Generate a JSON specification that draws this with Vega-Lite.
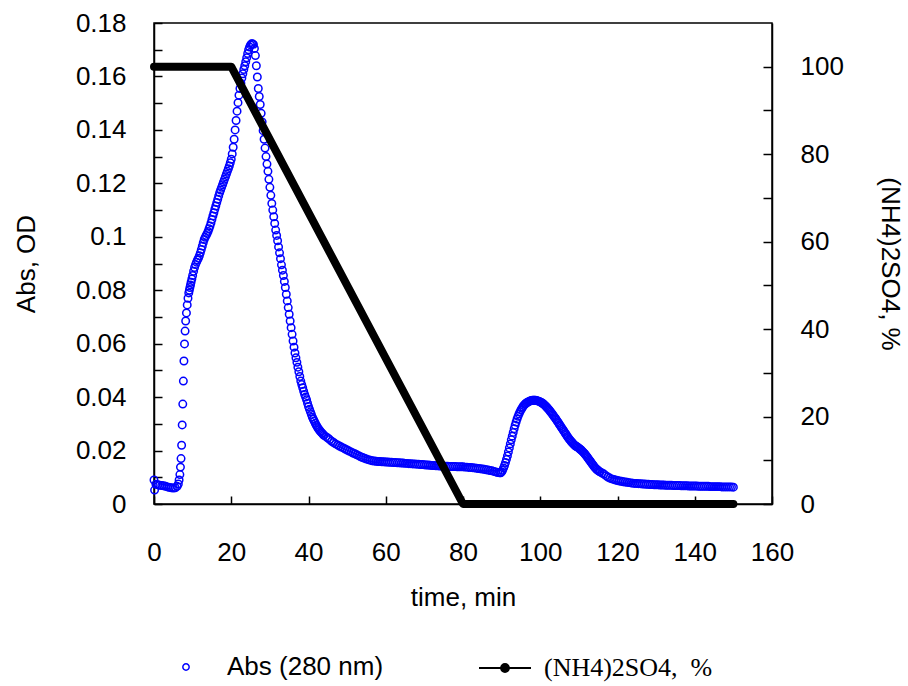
{
  "$schema": "https://vega.github.io/schema/vega-lite/v6.json",
  "width": 618,
  "height": 481,
  "autosize": "none",
  "padding": {"left": 154, "top": 23, "right": 136, "bottom": 182},
  "background": "white",
  "config": {
    "view": {"stroke": "black", "strokeWidth": 1.5},
    "axis": {
      "labelFont": "Liberation Sans",
      "titleFont": "Liberation Sans",
      "labelFontSize": 26,
      "titleFontSize": 26,
      "titleFontWeight": "normal",
      "labelColor": "black",
      "titleColor": "black",
      "domainColor": "black",
      "domainWidth": 1.5,
      "tickColor": "black",
      "tickWidth": 1.5,
      "grid": false,
      "labelOverlap": false,
      "labelFlush": false
    },
    "legend": {
      "labelFont": "Liberation Sans",
      "labelFontSize": 26,
      "labelColor": "black",
      "labelLimit": 0,
      "padding": 0,
      "title": null
    }
  },
  "datasets": {
    "abs": [
      {"t":0,"a":0.009},{"t":0.15,"a":0.0052},{"t":0.5,"a":0.0074},{"t":1,"a":0.0072},{"t":1.5,"a":0.007},{"t":2,"a":0.0069},{"t":2.5,"a":0.0068},{"t":3,"a":0.0066},{"t":3.5,"a":0.0064},{"t":4,"a":0.0062},{"t":4.5,"a":0.0061},{"t":5,"a":0.006},{"t":5.5,"a":0.0061},{"t":6,"a":0.0066},{"t":6.3,"a":0.0075},{"t":6.5,"a":0.009},{"t":6.7,"a":0.011},{"t":6.85,"a":0.0138},{"t":7,"a":0.017},{"t":7.15,"a":0.022},{"t":7.3,"a":0.0296},{"t":7.45,"a":0.0374},{"t":7.6,"a":0.046},{"t":7.75,"a":0.0535},{"t":7.9,"a":0.0599},{"t":8.05,"a":0.0647},{"t":8.2,"a":0.0685},{"t":8.4,"a":0.0715},{"t":8.6,"a":0.0745},{"t":8.8,"a":0.077},{"t":9,"a":0.079},{"t":9.3,"a":0.081},{"t":9.6,"a":0.083},{"t":10,"a":0.0855},{"t":10.5,"a":0.0885},{"t":11,"a":0.0905},{"t":11.5,"a":0.092},{"t":12,"a":0.094},{"t":12.5,"a":0.0965},{"t":13,"a":0.099},{"t":13.5,"a":0.1005},{"t":14,"a":0.102},{"t":14.5,"a":0.104},{"t":15,"a":0.1065},{"t":15.5,"a":0.109},{"t":16,"a":0.1115},{"t":16.5,"a":0.114},{"t":17,"a":0.1165},{"t":17.5,"a":0.1185},{"t":18,"a":0.1205},{"t":18.5,"a":0.1225},{"t":19,"a":0.1245},{"t":19.5,"a":0.1265},{"t":20,"a":0.129},{"t":20.5,"a":0.1335},{"t":21,"a":0.14},{"t":21.5,"a":0.147},{"t":22,"a":0.153},{"t":22.5,"a":0.1575},{"t":23,"a":0.161},{"t":23.5,"a":0.164},{"t":24,"a":0.167},{"t":24.5,"a":0.17},{"t":25,"a":0.1718},{"t":25.5,"a":0.1722},{"t":26,"a":0.1705},{"t":26.5,"a":0.164},{"t":27,"a":0.1555},{"t":27.5,"a":0.1495},{"t":28,"a":0.143},{"t":28.5,"a":0.1365},{"t":29,"a":0.13},{"t":29.5,"a":0.1245},{"t":30,"a":0.1185},{"t":30.5,"a":0.1125},{"t":31,"a":0.1075},{"t":31.5,"a":0.1025},{"t":32,"a":0.0985},{"t":32.5,"a":0.094},{"t":33,"a":0.0895},{"t":33.5,"a":0.0855},{"t":34,"a":0.081},{"t":34.5,"a":0.076},{"t":35,"a":0.071},{"t":35.5,"a":0.066},{"t":36,"a":0.061},{"t":36.5,"a":0.0565},{"t":37,"a":0.053},{"t":37.5,"a":0.0495},{"t":38,"a":0.046},{"t":38.5,"a":0.0435},{"t":39,"a":0.041},{"t":39.5,"a":0.039},{"t":40,"a":0.0365},{"t":40.5,"a":0.0345},{"t":41,"a":0.0325},{"t":41.5,"a":0.031},{"t":42,"a":0.0295},{"t":42.5,"a":0.0283},{"t":43,"a":0.0273},{"t":43.5,"a":0.0265},{"t":44,"a":0.0257},{"t":44.5,"a":0.0252},{"t":45,"a":0.0247},{"t":45.5,"a":0.0241},{"t":46,"a":0.0235},{"t":46.5,"a":0.023},{"t":47,"a":0.0225},{"t":47.5,"a":0.0221},{"t":48,"a":0.0217},{"t":48.5,"a":0.0213},{"t":49,"a":0.021},{"t":49.5,"a":0.0206},{"t":50,"a":0.0202},{"t":50.5,"a":0.0198},{"t":51,"a":0.0195},{"t":51.5,"a":0.0191},{"t":52,"a":0.0188},{"t":52.5,"a":0.0184},{"t":53,"a":0.0181},{"t":53.5,"a":0.0177},{"t":54,"a":0.0174},{"t":54.5,"a":0.0171},{"t":55,"a":0.0168},{"t":55.5,"a":0.0166},{"t":56,"a":0.0164},{"t":56.5,"a":0.0162},{"t":57,"a":0.0161},{"t":57.5,"a":0.016},{"t":58,"a":0.0159},{"t":58.5,"a":0.0159},{"t":59,"a":0.0158},{"t":59.5,"a":0.0158},{"t":60,"a":0.0157},{"t":60.5,"a":0.0157},{"t":61,"a":0.0156},{"t":61.5,"a":0.0156},{"t":62,"a":0.0155},{"t":62.5,"a":0.0155},{"t":63,"a":0.0154},{"t":63.5,"a":0.0154},{"t":64,"a":0.0153},{"t":64.5,"a":0.0153},{"t":65,"a":0.0152},{"t":65.5,"a":0.0152},{"t":66,"a":0.0151},{"t":66.5,"a":0.0151},{"t":67,"a":0.015},{"t":67.5,"a":0.015},{"t":68,"a":0.0149},{"t":68.5,"a":0.0149},{"t":69,"a":0.0148},{"t":69.5,"a":0.0148},{"t":70,"a":0.0147},{"t":70.5,"a":0.0146},{"t":71,"a":0.0146},{"t":71.5,"a":0.0145},{"t":72,"a":0.0144},{"t":72.5,"a":0.0144},{"t":73,"a":0.0143},{"t":73.5,"a":0.0143},{"t":74,"a":0.0142},{"t":74.5,"a":0.0142},{"t":75,"a":0.0141},{"t":75.5,"a":0.0141},{"t":76,"a":0.0141},{"t":76.5,"a":0.014},{"t":77,"a":0.014},{"t":77.5,"a":0.014},{"t":78,"a":0.014},{"t":78.5,"a":0.0139},{"t":79,"a":0.0139},{"t":79.5,"a":0.0139},{"t":80,"a":0.0139},{"t":80.5,"a":0.0138},{"t":81,"a":0.0138},{"t":81.5,"a":0.0137},{"t":82,"a":0.0137},{"t":82.5,"a":0.0136},{"t":83,"a":0.0135},{"t":83.5,"a":0.0134},{"t":84,"a":0.0133},{"t":84.5,"a":0.0132},{"t":85,"a":0.0131},{"t":85.5,"a":0.013},{"t":86,"a":0.0128},{"t":86.5,"a":0.0127},{"t":87,"a":0.0125},{"t":87.5,"a":0.0124},{"t":88,"a":0.0122},{"t":88.5,"a":0.012},{"t":89,"a":0.0118},{"t":89.5,"a":0.0117},{"t":90,"a":0.012},{"t":90.5,"a":0.0135},{"t":91,"a":0.0155},{"t":91.5,"a":0.018},{"t":92,"a":0.021},{"t":92.5,"a":0.024},{"t":93,"a":0.0268},{"t":93.5,"a":0.0295},{"t":94,"a":0.0318},{"t":94.5,"a":0.0337},{"t":95,"a":0.0352},{"t":95.5,"a":0.0364},{"t":96,"a":0.0373},{"t":96.5,"a":0.0379},{"t":97,"a":0.0383},{"t":97.5,"a":0.0386},{"t":98,"a":0.0388},{"t":98.5,"a":0.0388},{"t":99,"a":0.0387},{"t":99.5,"a":0.0385},{"t":100,"a":0.0382},{"t":100.5,"a":0.0378},{"t":101,"a":0.0372},{"t":101.5,"a":0.0365},{"t":102,"a":0.0357},{"t":102.5,"a":0.0348},{"t":103,"a":0.0339},{"t":103.5,"a":0.0329},{"t":104,"a":0.0319},{"t":104.5,"a":0.0308},{"t":105,"a":0.0297},{"t":105.5,"a":0.0286},{"t":106,"a":0.0275},{"t":106.5,"a":0.0264},{"t":107,"a":0.0253},{"t":107.5,"a":0.0243},{"t":108,"a":0.0234},{"t":108.5,"a":0.0226},{"t":109,"a":0.0219},{"t":109.5,"a":0.0214},{"t":110,"a":0.0209},{"t":110.5,"a":0.0203},{"t":111,"a":0.0196},{"t":111.5,"a":0.0188},{"t":112,"a":0.0179},{"t":112.5,"a":0.0169},{"t":113,"a":0.0159},{"t":113.5,"a":0.0149},{"t":114,"a":0.0139},{"t":114.5,"a":0.0131},{"t":115,"a":0.0125},{"t":115.5,"a":0.012},{"t":116,"a":0.0116},{"t":116.5,"a":0.0112},{"t":117,"a":0.0106},{"t":117.5,"a":0.0101},{"t":118,"a":0.0097},{"t":118.5,"a":0.0094},{"t":119,"a":0.0092},{"t":119.5,"a":0.009},{"t":120,"a":0.0088},{"t":120.5,"a":0.0086},{"t":121,"a":0.0085},{"t":121.5,"a":0.0083},{"t":122,"a":0.0082},{"t":122.5,"a":0.0081},{"t":123,"a":0.008},{"t":123.5,"a":0.0079},{"t":124,"a":0.0078},{"t":124.5,"a":0.0077},{"t":125,"a":0.0077},{"t":125.5,"a":0.0076},{"t":126,"a":0.0076},{"t":126.5,"a":0.0075},{"t":127,"a":0.0075},{"t":127.5,"a":0.0074},{"t":128,"a":0.0074},{"t":128.5,"a":0.0073},{"t":129,"a":0.0073},{"t":129.5,"a":0.0072},{"t":130,"a":0.0072},{"t":130.5,"a":0.0072},{"t":131,"a":0.0071},{"t":131.5,"a":0.0071},{"t":132,"a":0.0071},{"t":132.5,"a":0.007},{"t":133,"a":0.007},{"t":133.5,"a":0.007},{"t":134,"a":0.007},{"t":134.5,"a":0.0069},{"t":135,"a":0.0069},{"t":135.5,"a":0.0069},{"t":136,"a":0.0069},{"t":136.5,"a":0.0068},{"t":137,"a":0.0068},{"t":137.5,"a":0.0068},{"t":138,"a":0.0068},{"t":138.5,"a":0.0067},{"t":139,"a":0.0067},{"t":139.5,"a":0.0067},{"t":140,"a":0.0067},{"t":140.5,"a":0.0067},{"t":141,"a":0.0066},{"t":141.5,"a":0.0066},{"t":142,"a":0.0066},{"t":142.5,"a":0.0066},{"t":143,"a":0.0066},{"t":143.5,"a":0.0066},{"t":144,"a":0.0065},{"t":144.5,"a":0.0065},{"t":145,"a":0.0065},{"t":145.5,"a":0.0065},{"t":146,"a":0.0065},{"t":146.5,"a":0.0065},{"t":147,"a":0.0064},{"t":147.5,"a":0.0064},{"t":148,"a":0.0064},{"t":148.5,"a":0.0064},{"t":149,"a":0.0064},{"t":149.5,"a":0.0064},{"t":150,"a":0.0063},
      {"t":9.15,"a":0.08},{"t":9.45,"a":0.082},{"t":9.8,"a":0.0842},{"t":10.25,"a":0.0871},{"t":10.75,"a":0.0896},{"t":11.25,"a":0.0913},{"t":11.75,"a":0.0929},{"t":12.25,"a":0.0952},{"t":12.75,"a":0.0978},{"t":13.25,"a":0.0998},{"t":13.75,"a":0.1012},{"t":14.25,"a":0.103},{"t":14.75,"a":0.1052},{"t":15.25,"a":0.1078},{"t":15.75,"a":0.1103},{"t":16.25,"a":0.1128},{"t":16.75,"a":0.1153},{"t":17.25,"a":0.1175},{"t":17.75,"a":0.1195},{"t":18.25,"a":0.1215},{"t":18.75,"a":0.1235},{"t":19.25,"a":0.1255},{"t":19.75,"a":0.1277},{"t":20.25,"a":0.131},{"t":20.75,"a":0.1365},{"t":21.25,"a":0.1435},{"t":21.75,"a":0.1502},{"t":22.25,"a":0.1555},{"t":22.75,"a":0.1594},{"t":23.25,"a":0.1626},{"t":23.75,"a":0.1655},{"t":24.25,"a":0.1686},{"t":24.75,"a":0.171},{"t":25.25,"a":0.1722},{"t":25.75,"a":0.172},{"t":26.25,"a":0.1678},{"t":26.75,"a":0.1598},{"t":27.25,"a":0.1525},{"t":27.75,"a":0.1462},{"t":28.25,"a":0.1397},{"t":28.75,"a":0.1332},{"t":29.25,"a":0.1272},{"t":29.75,"a":0.1215},{"t":30.25,"a":0.1155},{"t":30.75,"a":0.11},{"t":31.25,"a":0.105},{"t":31.75,"a":0.1005},{"t":32.25,"a":0.0962},{"t":32.75,"a":0.0918},{"t":33.25,"a":0.0875},{"t":33.75,"a":0.0833},{"t":34.25,"a":0.0785},{"t":34.75,"a":0.0735},{"t":35.25,"a":0.0685},{"t":35.75,"a":0.0635},{"t":36.25,"a":0.0587},{"t":36.75,"a":0.0547},{"t":37.25,"a":0.0512},{"t":37.75,"a":0.0477},{"t":38.25,"a":0.0447},{"t":38.75,"a":0.0422},{"t":39.25,"a":0.04},{"t":39.75,"a":0.0377},{"t":40.25,"a":0.0355},{"t":40.75,"a":0.0335},{"t":41.25,"a":0.0317},{"t":41.75,"a":0.0302},{"t":42.25,"a":0.0289},{"t":42.75,"a":0.0278},{"t":43.25,"a":0.0269},{"t":43.75,"a":0.0261},
      {"t":89.75,"a":0.0117},{"t":90.25,"a":0.0126},{"t":90.75,"a":0.0144},{"t":91.25,"a":0.0167},{"t":91.75,"a":0.0195},{"t":92.25,"a":0.0225},{"t":92.75,"a":0.0254},{"t":93.25,"a":0.0282},{"t":93.75,"a":0.0307},{"t":94.25,"a":0.0328},{"t":94.75,"a":0.0345},{"t":95.25,"a":0.0358},{"t":95.75,"a":0.0369},{"t":96.25,"a":0.0376},{"t":96.75,"a":0.0381},{"t":97.25,"a":0.0385},{"t":97.75,"a":0.0387},{"t":98.25,"a":0.0388},{"t":98.75,"a":0.0388},{"t":99.25,"a":0.0386},{"t":99.75,"a":0.0384},{"t":100.25,"a":0.038},{"t":100.75,"a":0.0375},{"t":101.25,"a":0.0369},{"t":101.75,"a":0.0361},{"t":102.25,"a":0.0353},{"t":102.75,"a":0.0344},{"t":103.25,"a":0.0334},{"t":103.75,"a":0.0324},{"t":104.25,"a":0.0314},{"t":104.75,"a":0.0303},{"t":105.25,"a":0.0292},{"t":105.75,"a":0.0281},{"t":106.25,"a":0.027},{"t":106.75,"a":0.0259},{"t":107.25,"a":0.0248},{"t":107.75,"a":0.0239},{"t":108.25,"a":0.023},{"t":108.75,"a":0.0222},{"t":109.25,"a":0.0216},{"t":109.75,"a":0.0212},{"t":110.25,"a":0.0206},{"t":110.75,"a":0.02},{"t":111.25,"a":0.0192},{"t":111.75,"a":0.0184},{"t":112.25,"a":0.0174},{"t":112.75,"a":0.0164},{"t":113.25,"a":0.0154},{"t":113.75,"a":0.0144},{"t":114.25,"a":0.0135},{"t":114.75,"a":0.0128},{"t":115.25,"a":0.0122}
    ],
    "salt": [
      {"t":0,"s":100},{"t":20,"s":100},{"t":80,"s":0},{"t":150,"s":0}
    ]
  },
  "layer": [
    {
      "data": {"name": "abs"},
      "mark": {"type": "point", "filled": false, "size": 56, "strokeWidth": 1.5, "opacity": 1, "clip": false},
      "encoding": {
        "x": {
          "field": "t", "type": "quantitative",
          "scale": {"domain": [0, 160], "nice": false, "zero": false},
          "axis": {
            "title": "time, min",
            "values": [0,10,20,30,40,50,60,70,80,90,100,110,120,130,140,150,160],
            "labelExpr": "datum.value % 20 == 0 ? datum.label : ''",
            "tickSize": -8,
            "labelPadding": 43,
            "titlePadding": 19
          }
        },
        "y": {
          "field": "a", "type": "quantitative",
          "scale": {"domain": [0, 0.18], "nice": false},
          "axis": {
            "title": "Abs, OD",
            "orient": "left",
            "values": [0,0.01,0.02,0.03,0.04,0.05,0.06,0.07,0.08,0.09,0.1,0.11,0.12,0.13,0.14,0.15,0.16,0.17,0.18],
            "format": ".2~f",
            "labelExpr": "round(datum.value * 100) % 2 == 0 ? datum.label : ''",
            "tickSize": -8,
            "labelPadding": 36,
            "titlePadding": 36
          }
        },
        "color": {
          "datum": "Abs (280 nm)",
          "type": "nominal",
          "scale": {"domain": ["Abs (280 nm)"], "range": ["#0000ff"]},
          "legend": {
            "orient": "none",
            "legendX": 19,
            "legendY": 631,
            "symbolType": "circle",
            "symbolSize": 40,
            "symbolStrokeWidth": 1.5,
            "symbolFillColor": "transparent",
            "labelOffset": 28,
            "labelFont": "Liberation Sans"
          }
        }
      }
    },
    {
      "data": {"name": "salt"},
      "mark": {"type": "line", "strokeWidth": 8, "strokeCap": "round", "strokeJoin": "round", "clip": false},
      "encoding": {
        "x": {"field": "t", "type": "quantitative"},
        "y": {
          "field": "s", "type": "quantitative",
          "scale": {"domain": [0, 110], "nice": false},
          "axis": {
            "title": "(NH4)2SO4, %",
            "orient": "right",
            "values": [0,10,20,30,40,50,60,70,80,90,100],
            "labelExpr": "datum.value % 20 == 0 ? datum.label : ''",
            "tickSize": -9,
            "labelPadding": 37,
            "titlePadding": 33
          }
        },
        "color": {
          "datum": "(NH4)2SO4, %",
          "type": "nominal",
          "scale": {"domain": ["(NH4)2SO4, %"], "range": ["black"]},
          "legend": {
            "orient": "none",
            "legendX": 324,
            "legendY": 618,
            "symbolType": "M-1,0L1,0M-0.15,0A0.15,0.15,0,1,1,0.15,0A0.15,0.15,0,1,1,-0.15,0Z",
            "symbolSize": 2704,
            "symbolStrokeWidth": 2,
            "symbolFillColor": "black",
            "symbolStrokeColor": "black",
            "labelOffset": 12,
            "labelLimit": 0,
            "labelFont": "Liberation Serif",
            "labelExpr": "'(NH4)2SO4,\u00a0\u00a0%'"
          }
        }
      }
    }
  ],
  "resolve": {
    "scale": {"y": "independent", "color": "independent"},
    "legend": {"color": "independent"}
  }
}
